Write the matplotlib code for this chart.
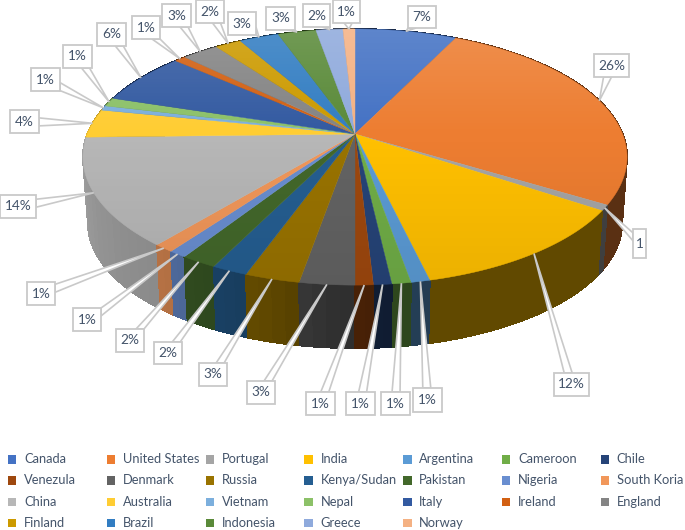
import numpy as np
import matplotlib
matplotlib.use("Agg")
import matplotlib.pyplot as plt
from matplotlib.patches import Polygon, Rectangle
from matplotlib.colors import to_rgb

countries = ["Canada", "United States", "Portugal", "India", "Argentina", "Cameroon", "Chile",
             "Venezula", "Denmark", "Russia", "Kenya/Sudan", "Pakistan", "Nigeria", "South Koria",
             "China", "Australia", "Vietnam", "Nepal", "Italy", "Ireland", "England",
             "Finland", "Brazil", "Indonesia", "Greece", "Norway"]
shares = [7.2, 26.5, 0.7, 11.9, 0.95, 0.95, 0.9, 0.9, 2.75, 2.75, 1.8, 1.8, 0.9, 1.0,
          13.6, 3.6, 0.6, 1.1, 6.6, 0.8, 2.6, 1.85, 2.8, 2.7, 1.9, 0.85]
labels = ["7%", "26%", "1", "12%", "1%", "1%", "1%", "1%", "3%", "3%", "2%", "2%", "1%", "1%",
          "14%", "4%", "1%", "1%", "6%", "1%", "3%", "2%", "3%", "3%", "2%", "1%"]
colors = ["#4472C4", "#ED7D31", "#A5A5A5", "#FFC000", "#5B9BD5", "#70AD47", "#264478",
          "#9E480E", "#636363", "#997300", "#255E91", "#43682B", "#698ED0", "#F1975A",
          "#B7B7B7", "#FFCD33", "#7CAFDD", "#8CC168", "#335AA1", "#D26012", "#848484",
          "#CC9A00", "#327DC2", "#5A8A39", "#8FAADC", "#F4B183"]

# label boxes in pixels: x0, x1, y0, y1
boxes = [(408, 436, 6, 28), (594, 629, 54, 77), (633, 646, 229, 258), (554, 589, 373, 396),
         (413, 442, 388, 412), (381, 410, 392, 415), (346, 375, 392, 415), (306, 335, 392, 415),
         (247, 275, 381, 404), (199, 227, 363, 386), (154, 182, 342, 364), (116, 144, 329, 352),
         (73, 101, 308, 331), (27, 55, 282, 305), (0, 36, 195, 218), (10, 39, 110, 133),
         (31, 60, 68, 91), (63, 92, 45, 68), (97, 126, 23, 46), (132, 160, 16, 39),
         (162, 191, 4, 27), (196, 224, 0, 23), (228, 256, 12, 35), (266, 295, 7, 30),
         (303, 330, 4, 27), (333, 360, 0, 23)]

text_color = "#44546A"
line_color = "#C9C9C9"

plt.rcParams['font.family'] = ['Lato', 'DejaVu Sans']

fig = plt.figure(figsize=(6.85, 5.3), dpi=100)
ax = fig.add_axes([0, 0, 1, 1])
ax.set_xlim(0, 685)
ax.set_ylim(530, 0)
ax.axis("off")

# perspective of the pie, apex sits above the centre of the rim ellipse
cx, apex_y = 355, 134
persp = 0.18
rim_x, rim_y = 267.6, 123.9


def top_xy(deg):
    t = np.radians(deg)
    u, v = np.sin(t), np.cos(t)
    w = 1 + persp * v
    return cx + rim_x * u / w, apex_y - rim_y * v / w


def bottom_xy(deg):
    x, y = top_xy(deg)
    return cx + (x - cx) * 267 / 272, 223 + (y - 157) * 125 / 128


def wall_shade(deg):
    return np.interp(deg, [0, 165, 175, 185, 195, 205, 218, 240, 270, 300, 360],
                     [.38, .38, .42, .50, .62, .68, .75, .80, .90, .40, .38])


edges = np.cumsum([0] + shares) / sum(shares) * 360

# -----------------------------------
# Side wall
# -----------------------------------
quads = []
for i, col in enumerate(colors):
    steps = np.linspace(edges[i], edges[i + 1], max(2, int(edges[i + 1] - edges[i]) // 3 + 2))
    for a, b in zip(steps[:-1], steps[1:]):
        xa, ya = top_xy(np.linspace(a, b, 8))
        xd, yd = bottom_xy(np.linspace(b, a, 8))
        pts = list(zip(xa, ya)) + list(zip(xd, yd))
        rgb = np.array(to_rgb(col)) * wall_shade((a + b) / 2)
        quads.append((ya.mean(), pts, rgb))

for _, pts, rgb in sorted(quads, key=lambda q: q[0]):
    ax.add_patch(Polygon(pts, closed=True, facecolor=rgb, edgecolor=rgb, linewidth=0.6,
                         antialiased=False, zorder=1))

# -----------------------------------
# Top face
# -----------------------------------
for i, col in enumerate(colors):
    ts = np.linspace(edges[i], edges[i + 1], max(2, int(edges[i + 1] - edges[i]) * 2 + 2))
    xs, ys = top_xy(ts)
    pts = [(cx, apex_y)] + list(zip(xs, ys))
    ax.add_patch(Polygon(pts, closed=True, facecolor=col, edgecolor=col, linewidth=0.3, zorder=2))

# light at the back of the disc, slightly darker at the front
rows = np.arange(0, 530)
shade = np.zeros((530, 1, 4))
shade[:, 0, :3] = (rows < apex_y)[:, None]
shade[:, 0, 3] = np.where(rows < apex_y, np.clip((apex_y - rows) / 105, 0, 1) * 0.14,
                          np.clip((rows - apex_y) / 151, 0, 1) * 0.08)
im = ax.imshow(shade, extent=(0, 685, 530, 0), aspect="auto", zorder=3, interpolation="bilinear")
xs, ys = top_xy(np.linspace(0, 360, 361))
rim = Polygon(list(zip(xs, ys)), closed=True, transform=ax.transData, facecolor="none", edgecolor="none")
ax.add_patch(rim)
im.set_clip_path(rim)
ax.set_xlim(0, 685)
ax.set_ylim(530, 0)

# -----------------------------------
# Data labels with callouts
# -----------------------------------
for i, (lab, box) in enumerate(zip(labels, boxes)):
    x0, x1, y0, y1 = box
    tip = top_xy((edges[i] + edges[i + 1]) / 2)
    mx, my = (x0 + x1) / 2, (y0 + y1) / 2
    dx, dy = tip[0] - mx, tip[1] - my
    hw, hh = (x1 - x0) / 2, (y1 - y0) / 2
    if abs(dx) * hh > abs(dy) * hw:
        ex = x1 if dx > 0 else x0
        ey = np.clip(my + dy * hw / abs(dx), y0 + 4, y1 - 4)
        base = [(ex, ey - 4), (ex, ey + 4)]
    else:
        ey = y1 if dy > 0 else y0
        ex = np.clip(mx + dx * hh / abs(dy), x0 + 4, x1 - 4)
        base = [(ex - 4, ey), (ex + 4, ey)]
    ax.add_patch(Polygon([base[0], tip, base[1]], closed=True, facecolor="white",
                         edgecolor=line_color, linewidth=1.2, zorder=4))
    ax.add_patch(Rectangle((x0, y0), x1 - x0, y1 - y0, facecolor="white",
                           edgecolor=line_color, linewidth=1.3, zorder=5))
    ax.text(mx, my, lab, ha="center", va="center", fontsize=9.8, color=text_color, zorder=6)

# -----------------------------------
# Legend, 7 columns
# -----------------------------------
for i, (name, col) in enumerate(zip(countries, colors)):
    c, r = i % 7, i // 7
    lx = 12 + 98.8 * c
    ly = 459 + 21.3 * r
    ax.add_patch(Rectangle((lx - 4, ly - 4), 8.5, 8.5, facecolor=col, edgecolor="none", zorder=2))
    ax.text(lx + 12, ly, name, ha="left", va="center", fontsize=9.3, color=text_color)

fig.savefig("out.png", dpi=100)
